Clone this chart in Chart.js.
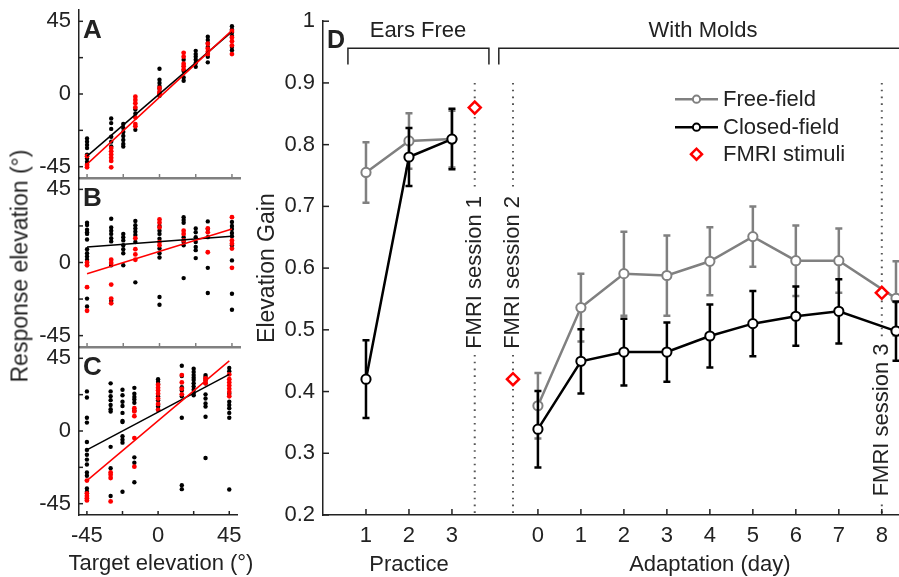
<!DOCTYPE html>
<html>
<head>
<meta charset="utf-8">
<script src="https://cdn.jsdelivr.net/npm/chart.js@4.4.0/dist/chart.umd.min.js"></script>
<style>
  body { margin: 0; background: #fff; }
  #wrap { position: relative; width: 899px; height: 577px; overflow: hidden; font-family: "Liberation Sans", Arial, sans-serif; }
  #wrap canvas { position: absolute; top: 0; }
  .axisTitle { position: absolute; font-size: 23px; color: #222; white-space: nowrap; transform: translate(-50%, -50%); }
  #respTitle { left: 20px; top: 266px; transform: translate(-50%, -50%) rotate(-90deg); }
  #targetTitle { left: 161px; top: 563px; font-size: 22px; }
</style>
</head>
<body>
<div id="wrap">
  <canvas id="panelA" width="250" height="577" style="left:0"></canvas>
  <canvas id="panelB" width="250" height="577" style="left:0"></canvas>
  <canvas id="panelC" width="250" height="577" style="left:0"></canvas>
  <canvas id="panelD" width="649" height="577" style="left:250px"></canvas>
  <div class="axisTitle" id="respTitle">Response elevation (°)</div>
  <div class="axisTitle" id="targetTitle">Target elevation (°)</div>
</div>
<script>
// target elevations of the speaker columns (deg)
var targets = [-45, -30, -22.5, -15, 0, 15, 22.5, 30, 45];
var elevTicks = [-45, -22.5, 0, 22.5, 45];

// A: responses per target column, closed-field (black) and fMRI stimuli (red)
var aBlack = [
  [-27.5, -29.5, -31.5, -33.5, -37.5, -40, -42, -43.4],
  [-15.2, -18, -21.6, -26.5, -29.5, -32.5],
  [-18.6, -21, -23.5, -26, -28.5, -30.9, -32.5],
  [-9.6, -12.2, -22.2],
  [15.6, 8.8, 6.8, 4.9, 3.3, -1.1],
  [21.2, 14.2, 10.2, 8.2],
  [26.7, 24.7, 23.1, 21.2, 19.2, 16.8],
  [35.5, 33.5, 31.5, 29.1, 23.1, 19.6],
  [42, 40, 38, 36, 29.1, 27.1]
];
var aRed = [
  [-38.5, -44, -45.4],
  [-33.5, -35.5, -37.5, -39.5, -41.4, -45.4],
  [],
  [-1.7, -3.7, -5.7, -8.3, -14.6, -18.6, -20],
  [3.7, 1.3, 0.3, -0.3],
  [25.5, 23.1, 18.8, 17.2, 15.2],
  [],
  [31.1, 28.1, 26.1, 24.7],
  [39, 35, 32.7, 30.1, 24.7]
];

// B
var bBlack = [
  [24.5, 23.1, 20.2, 18.6, 17.6, 14.2, 8.2, 5.7, 3.7, 1.7, -22.2, -27.1],
  [26.9, 21.6, 19.6, 17.6, 15, 13, -1.7, -23.5],
  [17.6, 15.6, 13.6, 10.6, 8.2, 5.7, -1.7],
  [25.5, 23, 21, 19, 17, 12.6, -12.2],
  [22.5, 19.6, 17.6, 14.6, 8.6, 5.7, 3.1, -21.2, -26],
  [27.9, 26.1, 24.5, 15.6, 12.6, 10.6, -9.6],
  [21, 18.6, 15.6, 12.6, 9.6, 7.6, 2.7],
  [25.3, 20.6, 15.6, -3.3, -18.8],
  [24.9, 22.5, 20.6, 18.2, 16.2, 10.6, 1.3, -19.2, -29.1]
];
var bRed = [
  [0, -1.7, -15.2, -29.7],
  [1.7, -0.3, -13.6, -22.2, -25.1],
  [],
  [15, 8.2, 5, 1.7],
  [26.5, 24.5, 21.6, 12.6, 10.6],
  [19.6, 17.6, 13.6],
  [],
  [21, 18.6, 6.3],
  [27.9, 13.6, 11.6, 8.6, -3.3]
];

// C
var cBlack = [
  [24.5, 20.7, 8.2, 5.2, -6.8, -11.7, -14.7, -17.7, -20.7, -25.7, -27.7, -35.6, -37.6],
  [29.5, 24.5, 21.5, 19.1, 16.1, 13.5, 12.1, -9.8, -23.1, -40.2],
  [25.5, 22.1, 18.1, 15.5, 11.2, 6.2, 5.6, -3.2, -5.4, -7.2, -37.6],
  [26.7, 23.1, 21.1, 19.5, 17.5, 12.7, -16.3, -19.7, -31.7],
  [32.1, 30.5, 29.1, 21.5, 19.1, 16.1, 15.1, 13.1],
  [40.4, 34, 27.1, 25.1, 21.5, 8.2, -33.6, -36],
  [38.6, 36.6, 34.6, 33, 31.5, 29.5, 27.5, 25.5, 23.5, 22.1],
  [34.6, 33.5, 31.5, 29.5, 22.7, 20.1, 17.1, 15.1, 8.8, -16.7],
  [39, 37, 23.1, 18.1, 16.1, 14.1, 11.2, 8.2, -36.2]
];
var cRed = [
  [-30.7, -38.6, -40.2, -41.6, -43],
  [-25.7, -27.1, -29.1, -43.6],
  [],
  [14.1, 12.1, 9.2, -4.4, -22.1],
  [28.7, 26.7, 25.1, 23.1, 20.1, 16.7, 13.1],
  [34.6, 30.1, 26.1, 22.7],
  [],
  [32.6, 31.1, 29.5],
  [35, 32.1, 30.1, 28.1, 26.1, 24.1, 21.5]
];

// regression line ends at -45 and +45
var fitX = [-45, 45];
var aFitBlack = [-38.5, 38.6], aFitRed = [-43.4, 39.4];
var bFitBlack = [9.6, 16.2], bFitRed = [-6.9, 20.6];
var cFitBlack = [-11.7, 35], cFitRed = [-30.7, 43.4];

// D: elevation gain, practice sessions and adaptation days
var practiceRuns = [1, 2, 3];
var freePractice = [0.755, 0.806, 0.809];
var freePracticeErr = [0.049, 0.045, 0.046];
var closedPractice = [0.42, 0.78, 0.809];
var closedPracticeErr = [0.063, 0.047, 0.049];

var adaptDays = [0, 1, 2, 3, 4, 5, 6, 7, 8.33];
var dayTicks = [0, 1, 2, 3, 4, 5, 6, 7, 8];
var freeAdapt = [0.377, 0.536, 0.591, 0.588, 0.611, 0.651, 0.612, 0.612, 0.551];
var freeAdaptErr = [0.053, 0.055, 0.068, 0.065, 0.055, 0.049, 0.057, 0.052, 0.06];
var closedAdapt = [0.339, 0.449, 0.464, 0.464, 0.49, 0.51, 0.522, 0.53, 0.498];
var closedAdaptErr = [0.062, 0.052, 0.054, 0.048, 0.051, 0.053, 0.048, 0.052, 0.048];

// FMRI sessions: position on the shared axis and gain of the stimuli
var fmriAt = [3.53, 4.42, 13];
var fmriGain = [0.86, 0.42, 0.56];
var fmriNames = ['FMRI session 1', 'FMRI session 2', 'FMRI session 3'];
var groupNames = ['Ears Free', 'With Molds'];

var dayOffset = 5; // day 0 sits 5 units right of practice 0

var FONT = '"Liberation Sans", Arial, sans-serif';
var INK = '#222';
var GREY = '#808080';
var RED = '#ff0000';
Chart.defaults.font.family = FONT;
Chart.defaults.font.size = 22;
Chart.defaults.color = INK;

function toPoints(cols) {
  var pts = [];
  cols.forEach(function (col, i) {
    col.forEach(function (v) { pts.push({ x: targets[i], y: v }); });
  });
  return pts;
}

function pairs(xs, ys) {
  return xs.map(function (x, i) { return { x: x, y: ys[i] }; });
}

// tick marks drawn inward, the way the axes point into the plot
var inwardTicks = {
  id: 'inwardTicks',
  afterDraw: function (chart, args, opts) {
    var ctx = chart.ctx, a = chart.chartArea;
    var x = chart.scales.x, y = chart.scales.y;
    ctx.save();
    ctx.lineWidth = 1.5;
    ctx.strokeStyle = INK;
    y.ticks.forEach(function (t) {
      var p = y.getPixelForValue(t.value);
      ctx.beginPath(); ctx.moveTo(a.left, p); ctx.lineTo(a.left + opts.len, p); ctx.stroke();
    });
    ctx.strokeStyle = opts.xColor || INK;
    x.ticks.forEach(function (t) {
      var p = x.getPixelForValue(t.value);
      ctx.beginPath(); ctx.moveTo(p, a.bottom); ctx.lineTo(p, a.bottom - opts.len); ctx.stroke();
    });
    if (opts.letter) {
      ctx.fillStyle = INK;
      ctx.font = 'bold ' + opts.letterSize + 'px ' + FONT;
      ctx.textBaseline = 'top';
      ctx.fillText(opts.letter, a.left + 4, a.top + opts.letterTop);
    }
    ctx.restore();
  }
};

// each small panel canvas starts 30px above its plot so the top label has room
function makeScatter(id, letter, black, red, fitBlack, fitRed, areaTop, areaBottom, isLast) {
  var canvas = document.getElementById(id);
  var lead = 30;
  canvas.style.top = (areaTop - lead) + 'px';
  canvas.height = 577 - (areaTop - lead);
  var plotH = areaBottom - areaTop;
  var below = canvas.height - lead - plotH;
  new Chart(canvas, {
    type: 'scatter',
    data: {
      datasets: [
        { data: pairs(fitX, fitRed), showLine: true, borderColor: RED, borderWidth: 1.5, pointRadius: 0 },
        { data: pairs(fitX, fitBlack), showLine: true, borderColor: '#000', borderWidth: 1.5, pointRadius: 0 },
        { data: toPoints(red), backgroundColor: RED, borderWidth: 0, pointRadius: 2.4 },
        { data: toPoints(black), backgroundColor: '#000', borderWidth: 0, pointRadius: 2.2 }
      ]
    },
    options: {
      responsive: false,
      animation: false,
      events: [],
      layout: { autoPadding: false, padding: { top: lead, right: 10, left: 0, bottom: isLast ? 0 : below } },
      plugins: {
        legend: { display: false },
        tooltip: { enabled: false },
        inwardTicks: { len: 4, xColor: isLast ? INK : GREY, letter: letter, letterSize: 26, letterTop: 8 }
      },
      scales: {
        x: {
          type: 'linear', min: -50, max: 50,
          afterBuildTicks: function (s) { s.ticks = elevTicks.map(function (v) { return { value: v }; }); },
          afterFit: function (s) { s.height = isLast ? below : 0; },
          ticks: { display: isLast, autoSkip: false, maxRotation: 0, padding: 8,
            callback: function (v) { return v % 45 === 0 ? String(v) : ''; } },
          grid: { display: true, drawOnChartArea: false, drawTicks: false },
          border: { display: true, color: isLast ? INK : GREY, width: isLast ? 1.5 : 2.5 }
        },
        y: {
          type: 'linear', min: -52, max: 52,
          afterBuildTicks: function (s) { s.ticks = elevTicks.map(function (v) { return { value: v }; }); },
          afterFit: function (s) { s.width = 79; },
          ticks: { autoSkip: false, padding: 8,
            callback: function (v) { return v % 45 === 0 ? String(v) : ''; } },
          grid: { display: true, drawOnChartArea: false, drawTicks: false },
          border: { display: true, color: INK, width: 1.5 }
        }
      }
    },
    plugins: [inwardTicks]
  });
}

makeScatter('panelA', 'A', aBlack, aRed, aFitBlack, aFitRed, 10, 178, false);
makeScatter('panelB', 'B', bBlack, bRed, bFitBlack, bFitRed, 178, 347, false);
makeScatter('panelC', 'C', cBlack, cRed, cFitBlack, cFitRed, 347, 515, true);

// D: error bars, FMRI markers, brackets, legend and group labels
var gainDecor = {
  id: 'gainDecor',
  beforeDatasetsDraw: function (chart) {
    var ctx = chart.ctx, x = chart.scales.x, y = chart.scales.y;
    var labelAt = [0.593, 0.593, 0.354];
    ctx.save();
    ctx.strokeStyle = '#555';
    ctx.lineWidth = 2;
    ctx.setLineDash([1.6, 5.2]);
    fmriAt.forEach(function (v) {
      var px = x.getPixelForValue(v);
      ctx.beginPath(); ctx.moveTo(px, y.getPixelForValue(0.9)); ctx.lineTo(px, y.getPixelForValue(0.2)); ctx.stroke();
    });
    ctx.setLineDash([]);
    ctx.font = '22px ' + FONT;
    ctx.textAlign = 'center';
    ctx.textBaseline = 'middle';
    fmriNames.forEach(function (txt, i) {
      var w = ctx.measureText(txt).width;
      ctx.save();
      ctx.translate(x.getPixelForValue(fmriAt[i]) - 1, y.getPixelForValue(labelAt[i]));
      ctx.rotate(-Math.PI / 2);
      ctx.fillStyle = '#fff';
      ctx.fillRect(-w / 2 - 6, -10, w + 12, 20);
      ctx.fillStyle = INK;
      ctx.fillText(txt, 0, 1);
      ctx.restore();
    });
    ctx.restore();
  },
  beforeDatasetDraw: function (chart, args) {
    var ds = chart.data.datasets[args.index];
    if (!ds.errors) return;
    var ctx = chart.ctx, y = chart.scales.y;
    ctx.save();
    ctx.strokeStyle = ds.borderColor;
    ctx.lineWidth = 2.5;
    args.meta.data.forEach(function (pt, i) {
      var v = ds.data[i].y, e = ds.errors[i];
      var top = y.getPixelForValue(v + e), bot = y.getPixelForValue(v - e);
      ctx.beginPath();
      ctx.moveTo(pt.x, top); ctx.lineTo(pt.x, bot);
      ctx.moveTo(pt.x - 3.5, top); ctx.lineTo(pt.x + 3.5, top);
      ctx.moveTo(pt.x - 3.5, bot); ctx.lineTo(pt.x + 3.5, bot);
      ctx.stroke();
    });
    ctx.restore();
  },
  afterDraw: function (chart) {
    var ctx = chart.ctx, a = chart.chartArea, x = chart.scales.x, y = chart.scales.y;
    ctx.save();
    // group brackets
    ctx.strokeStyle = INK;
    ctx.lineWidth = 1.5;
    var yTop = y.getPixelForValue(0.956), yLeg = y.getPixelForValue(0.93);
    [[0.58, 3.86], [4.09, 13.6]].forEach(function (b) {
      var l = x.getPixelForValue(b[0]), r = x.getPixelForValue(b[1]);
      ctx.beginPath();
      ctx.moveTo(l, yLeg); ctx.lineTo(l, yTop); ctx.lineTo(r, yTop); ctx.lineTo(r, yLeg);
      ctx.stroke();
    });
    ctx.fillStyle = INK;
    ctx.font = '22px ' + FONT;
    ctx.textAlign = 'center';
    ctx.textBaseline = 'middle';
    ctx.fillText(groupNames[0], x.getPixelForValue(2.21), y.getPixelForValue(0.984));
    ctx.fillText(groupNames[1], x.getPixelForValue(8.84), y.getPixelForValue(0.984));
    // axis group titles
    ctx.fillText('Practice', x.getPixelForValue(2), 565);
    ctx.fillText('Adaptation (day)', x.getPixelForValue(4 + dayOffset), 565);
    // panel letter
    ctx.font = 'bold 25px ' + FONT;
    ctx.textAlign = 'left';
    ctx.textBaseline = 'top';
    ctx.fillText('D', a.left + 4, 29);
    // legend
    var rows = [
      { ds: chart.data.datasets[3], y: a.top + 78 },
      { ds: chart.data.datasets[1], y: a.top + 106 },
      { ds: chart.data.datasets[0], y: a.top + 133 }
    ];
    var lx0 = a.left + 352, lx1 = a.left + 395;
    rows.forEach(function (r) {
      var ds = r.ds, cx = (lx0 + lx1) / 2;
      ctx.strokeStyle = ds.borderColor;
      if (ds.showLine !== false) {
        ctx.lineWidth = 2.5;
        ctx.beginPath(); ctx.moveTo(lx0, r.y); ctx.lineTo(lx1, r.y); ctx.stroke();
      }
      ctx.fillStyle = '#fff';
      ctx.lineWidth = ds.pointBorderWidth;
      Chart.helpers.drawPoint(ctx, {
        pointStyle: ds.pointStyle || 'circle',
        radius: ds.showLine === false ? 5.5 : 3.6,
        rotation: 0,
        borderWidth: ds.pointBorderWidth
      }, cx, r.y);
      ctx.fillStyle = INK;
      ctx.font = '22px ' + FONT;
      ctx.textAlign = 'left';
      ctx.textBaseline = 'middle';
      ctx.fillText(ds.label, lx1 + 5, r.y + 1);
    });
    ctx.restore();
  }
};

var lineStyle = function (color) {
  return {
    borderColor: color, borderWidth: 2.5, tension: 0,
    pointRadius: 4.6, pointBorderWidth: 2, pointBackgroundColor: '#fff', pointBorderColor: color
  };
};

new Chart(document.getElementById('panelD'), {
  type: 'line',
  data: {
    datasets: [
      { label: 'FMRI stimuli', data: pairs(fmriAt, fmriGain), showLine: false, pointStyle: 'rectRot',
        pointRadius: 6, pointBorderWidth: 2.5, borderColor: RED, pointBorderColor: RED, pointBackgroundColor: '#fff' },
      Object.assign({ label: 'Closed-field', data: pairs(practiceRuns, closedPractice), errors: closedPracticeErr }, lineStyle('#000')),
      Object.assign({ label: 'Closed-field', data: pairs(adaptDays.map(function (d) { return d + dayOffset; }), closedAdapt), errors: closedAdaptErr }, lineStyle('#000')),
      Object.assign({ label: 'Free-field', data: pairs(practiceRuns, freePractice), errors: freePracticeErr }, lineStyle(GREY)),
      Object.assign({ label: 'Free-field', data: pairs(adaptDays.map(function (d) { return d + dayOffset; }), freeAdapt), errors: freeAdaptErr }, lineStyle(GREY))
    ]
  },
  options: {
    responsive: false,
    animation: false,
    events: [],
    layout: { autoPadding: false, padding: { top: 20, right: 0, left: 0, bottom: 0 } },
    plugins: {
      legend: { display: false },
      tooltip: { enabled: false },
      inwardTicks: { len: 6 }
    },
    scales: {
      x: {
        type: 'linear', min: 0, max: 13.4,
        afterBuildTicks: function (s) {
          s.ticks = practiceRuns.map(function (v) { return { value: v }; })
            .concat(dayTicks.map(function (d) { return { value: d + dayOffset }; }));
        },
        afterFit: function (s) { s.height = 62; },
        ticks: { autoSkip: false, maxRotation: 0, padding: 8,
          callback: function (v) { return String(v < 4 ? v : v - dayOffset); } },
        grid: { display: true, drawOnChartArea: false, drawTicks: false },
        border: { display: true, color: INK, width: 1.5 }
      },
      y: {
        type: 'linear', min: 0.2, max: 1,
        ticks: { stepSize: 0.1, padding: 8,
          callback: function (v) { return String(+v.toFixed(1)); } },
        afterFit: function (s) { s.width = 73; },
        grid: { display: true, drawOnChartArea: false, drawTicks: false },
        border: { display: true, color: INK, width: 1.5 },
        title: { display: true, text: 'Elevation Gain', font: { size: 23 }, padding: { top: 4, bottom: 0 } }
      }
    }
  },
  plugins: [inwardTicks, gainDecor]
});
</script>
</body>
</html>
